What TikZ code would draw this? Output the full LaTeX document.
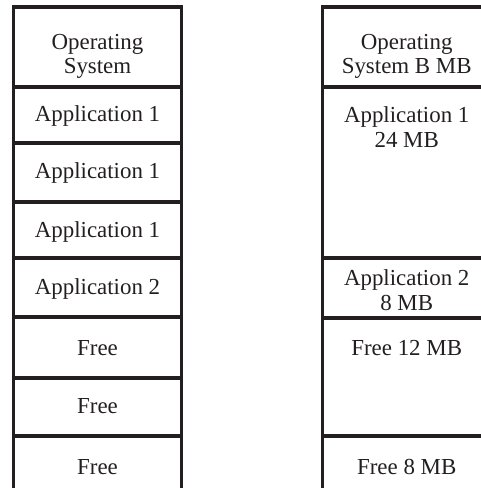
\documentclass[tikz,border=0pt]{standalone}
\usepackage{fontspec}
\setmainfont{Liberation Serif}
\definecolor{ink}{HTML}{231F20}
\begin{document}
\begin{tikzpicture}[x=1bp,y=-1bp,
  cell/.style={draw=ink, line width=3.2bp, rectangle, inner sep=0pt, outer sep=0pt,
    anchor=north west, minimum width=168bp},
  lbl/.style={anchor=base, align=center, inner sep=0pt, text=ink,
    font=\fontsize{23}{24.2}\selectfont}]
\path[use as bounding box, clip] (0,0) rectangle (481,488);

% memory map, one box per block of the left column
\node[cell, minimum height=80bp] (l1) at (13.5,7) {};
\node[cell, minimum height=56bp] (l2) at (l1.south west) {};
\node[cell, minimum height=59bp] (l3) at (l2.south west) {};
\node[cell, minimum height=56bp] (l4) at (l3.south west) {};
\node[cell, minimum height=59bp] (l5) at (l4.south west) {};
\node[cell, minimum height=61bp] (l6) at (l5.south west) {};
\node[cell, minimum height=58bp] (l7) at (l6.south west) {};
\node[cell, minimum height=60bp] (l8) at (l7.south west) {};

% memory map with sizes, right column
\node[cell, minimum height=80bp]  (r1) at (322.7,7) {};
\node[cell, minimum height=171bp] (r2) at (r1.south west) {};
\node[cell, minimum height=60bp]  (r3) at (r2.south west) {};
\node[cell, minimum height=118bp] (r4) at (r3.south west) {};
\node[cell, minimum height=60bp]  (r5) at (r4.south west) {};

% labels of the left column (base = baseline of the last line)
\node[lbl] (t1) at ([yshift=-67bp]l1.north) {Operating\\System};
\node[lbl] (t2) at ([yshift=-35bp]l2.north) {Application 1};
\node[lbl] (t3) at ([yshift=-35bp]l3.north) {Application 1};
\node[lbl] (t4) at ([yshift=-35bp]l4.north) {Application 1};
\node[lbl] (t5) at ([yshift=-36bp]l5.north) {Application 2};
\node[lbl] (t6) at ([yshift=-38bp]l6.north) {Free};
\node[lbl] (t7) at ([yshift=-35bp]l7.north) {Free};
\node[lbl] (t8) at ([yshift=-38bp]l8.north) {Free};

% labels of the right column
\node[lbl] (s1) at ([yshift=-67bp]r1.north) {Operating\\System B MB};
\node[lbl] (s2) at ([yshift=-60bp]r2.north) {Application 1\\24 MB};
\node[lbl] (s3) at ([yshift=-52bp]r3.north) {Application 2\\8 MB};
\node[lbl] (s4) at ([yshift=-37bp]r4.north) {Free 12 MB};
\node[lbl] (s5) at ([yshift=-38bp]r5.north) {Free 8 MB};
\end{tikzpicture}
\end{document}
